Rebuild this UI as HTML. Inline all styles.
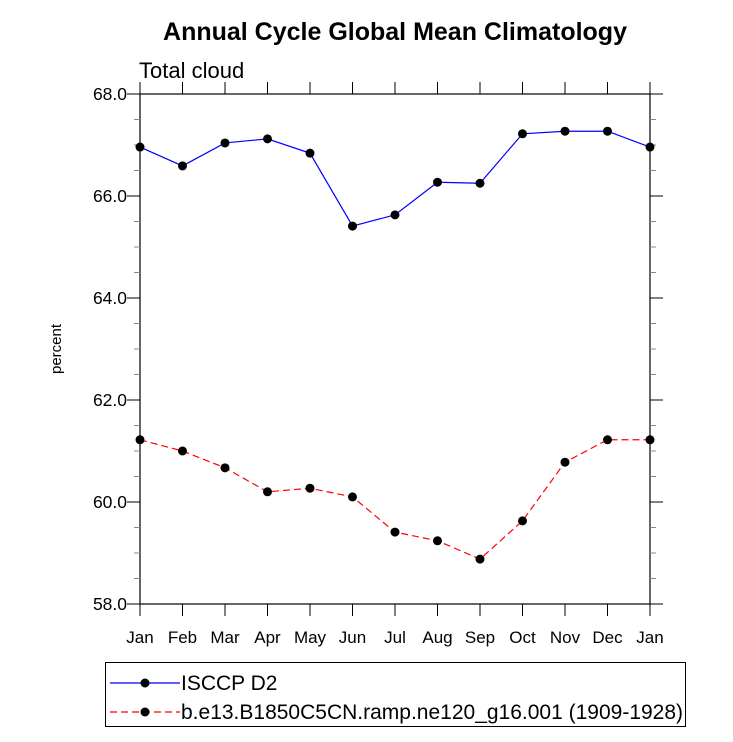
<!DOCTYPE html>
<html><head><meta charset="utf-8"><style>
body{margin:0;background:#fff;}
svg text{font-family:"Liberation Sans",Arial,sans-serif;}
</style></head><body>
<svg id="chart" width="733" height="737" viewBox="0 0 733 737" xmlns="http://www.w3.org/2000/svg">
<text x="395" y="40" text-anchor="middle" font-size="25" font-weight="bold">Annual Cycle Global Mean Climatology</text>
<text x="139" y="78" font-size="22">Total cloud</text>
<text transform="translate(61,349) rotate(-90)" text-anchor="middle" font-size="15">percent</text>
<g id="axes"></g>
<g id="series"></g>
<g>
<rect x="105.5" y="662.5" width="580" height="64" fill="none" stroke="#000" stroke-width="1"/>
<g>
<line x1="110" y1="683" x2="180" y2="683" stroke="#0000ff" stroke-width="1.2"/>
<circle cx="145" cy="683" r="4.5" fill="#000"/>
<text x="181" y="690" font-size="21">ISCCP D2</text></g>
<g>
<line x1="110" y1="712" x2="180" y2="712" stroke="#ff0000" stroke-width="1.2" stroke-dasharray="7,4"/>
<circle cx="145" cy="712" r="4.5" fill="#000"/>
<text x="181" y="719" font-size="21">b.e13.B1850C5CN.ramp.ne120_g16.001 (1909-1928)</text></g>
</g>
</svg>
<script>
const months=["Jan","Feb","Mar","Apr","May","Jun","Jul","Aug","Sep","Oct","Nov","Dec","Jan"];
const obsValues=[66.96,66.59,67.04,67.12,66.84,65.41,65.63,66.27,66.25,67.22,67.27,67.27,66.96];
const modelValues=[61.22,61.0,60.67,60.2,60.27,60.1,59.41,59.24,58.88,59.63,60.78,61.22,61.22];
const yTicks=[58,60,62,64,66,68];
const NS="http://www.w3.org/2000/svg";
const X0=140,X1=650,Y0=94,Y1=604,YMIN=58,YMAX=68;
const xs=i=>X0+(X1-X0)*i/(months.length-1);
const ys=v=>Y1-(v-YMIN)/(YMAX-YMIN)*(Y1-Y0);
function mk(tag,attrs,parent){const e=document.createElementNS(NS,tag);for(const k in attrs)e.setAttribute(k,attrs[k]);parent.appendChild(e);return e;}
const ax=document.getElementById('axes');
const frame=mk('rect',{x:X0,y:Y0,width:X1-X0,height:Y1-Y0,fill:'none',stroke:'#000','stroke-width':1.2},ax);


for(let v=YMIN;v<=YMAX+0.001;v+=0.5){
  const y=ys(v);const major=Math.abs(v-Math.round(v/2)*2)<0.01;const L=major?13:6;const c=major?'#000':'#888';
  mk('line',{x1:X0-L,y1:y,x2:X0,y2:y,stroke:c,'stroke-width':1},ax);
  mk('line',{x1:X1,y1:y,x2:X1+L,y2:y,stroke:c,'stroke-width':1},ax);
}
yTicks.forEach(v=>{
  const t=mk('text',{x:X0-13,y:ys(v)+6,'text-anchor':'end','font-size':17.5},ax);
  t.textContent=v.toFixed(1);
  
  
});
months.forEach((m,i)=>{
  const x=xs(i);
  mk('line',{x1:x,y1:Y0-12,x2:x,y2:Y0,stroke:'#000','stroke-width':1},ax);
  mk('line',{x1:x,y1:Y1,x2:x,y2:Y1+12,stroke:'#000','stroke-width':1},ax);
  const t=mk('text',{x:x,y:Y1+39,'text-anchor':'middle','font-size':17},ax);
  t.textContent=m;
  
  
});
const sg=document.getElementById('series');
function draw(vals,color,dash,name){
  const pts=vals.map((v,i)=>xs(i)+','+ys(v)).join(' ');
  const pl=mk('polyline',{points:pts,fill:'none',stroke:color,'stroke-width':1.2},sg);
  if(dash)pl.setAttribute('stroke-dasharray',dash);
  
  
  vals.forEach((v,i)=>{
    const c=mk('circle',{cx:xs(i),cy:ys(v),r:4.5,fill:'#000'},sg);
    
    
  });
}
draw(obsValues,'#0000ff',null,'isccp');
draw(modelValues,'#ff0000','7,4','model');
</script>
</body></html>
